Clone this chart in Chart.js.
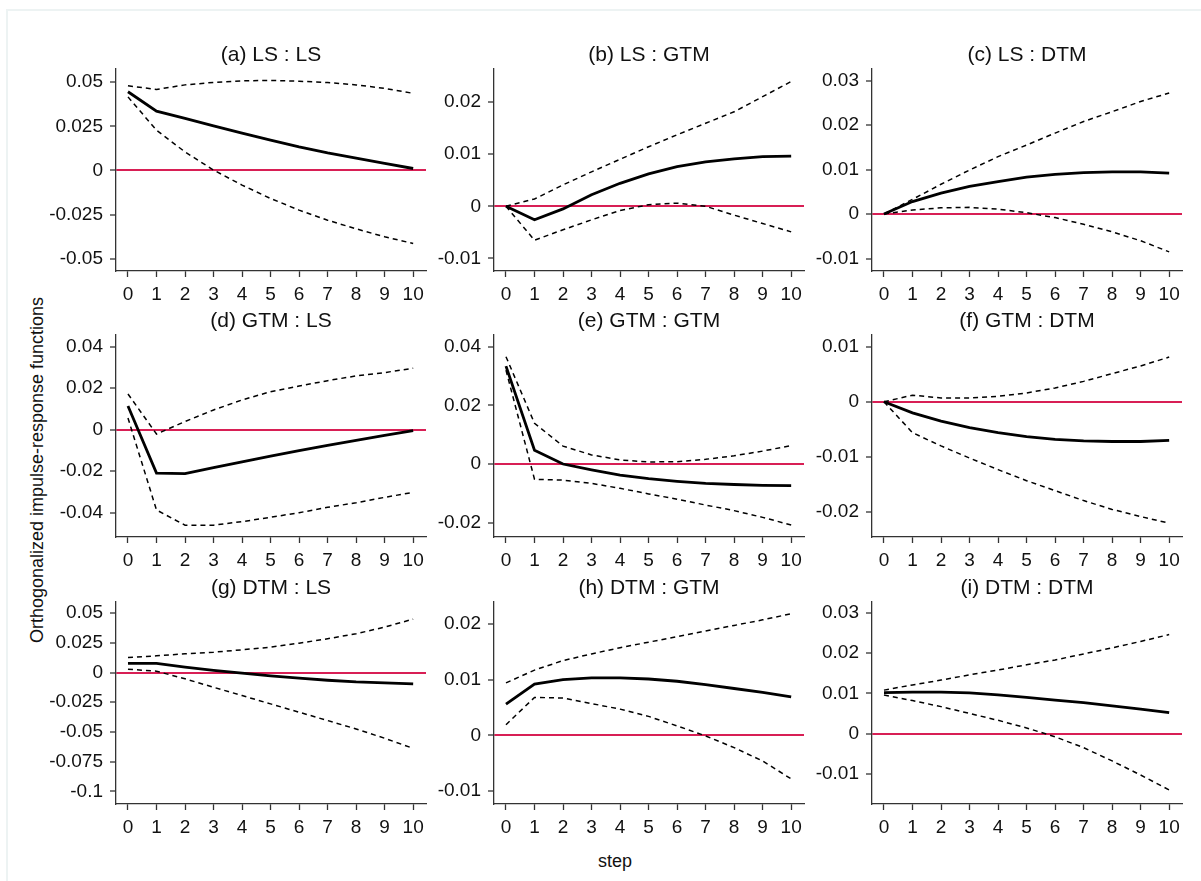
<!DOCTYPE html>
<html lang="en">
<head>
<meta charset="UTF-8">
<title>Orthogonalized impulse-response functions</title>
<script src="https://cdn.jsdelivr.net/npm/chart.js"></script>
<style>
    body {
        margin: 0;
        background: #fff;
        width: 1201px;
        height: 881px;
        overflow: hidden;
        position: relative;
        font-family: "Liberation Sans", Arial, sans-serif;
    }
    .frame {
        position: absolute;
        left: 6px;
        top: 9px;
        width: 1300px;
        height: 1000px;
        border-top: 2px solid #edf3f3;
        border-left: 2px solid #edf3f3;
    }
    .panel { position: absolute; }
    .ytitle {
        position: absolute;
        left: 37px;
        top: 470px;
        transform: translate(-50%, -50%) rotate(-90deg);
        white-space: nowrap;
        font-size: 18px;
        color: #111;
    }
    .xtitle {
        position: absolute;
        left: 615px;
        top: 861px;
        transform: translate(-50%, -50%);
        font-size: 18px;
        color: #111;
    }
</style>
</head>
<body>
<div class="frame"></div>
<div class="ytitle">Orthogonalized impulse-response functions</div>
<div class="xtitle">step</div>
<div id="panels"></div>

<script>
    // steps 0..10
    const steps = [0, 1, 2, 3, 4, 5, 6, 7, 8, 9, 10];

    const titles = ['(a) LS : LS', '(b) LS : GTM', '(c) LS : DTM',
                    '(d) GTM : LS', '(e) GTM : GTM', '(f) GTM : DTM',
                    '(g) DTM : LS', '(h) DTM : GTM', '(i) DTM : DTM'];

    // irf + 95% band
    const a_irf   = [0.0446, 0.0336, 0.0295, 0.0253, 0.0212, 0.0172, 0.0134, 0.0100, 0.0070, 0.0040, 0.0011];
    const a_upper = [0.0480, 0.0459, 0.0485, 0.0499, 0.0508, 0.0510, 0.0506, 0.0498, 0.0485, 0.0465, 0.0437];
    const a_lower = [0.0417, 0.0228, 0.0105, 0.0002, -0.0083, -0.0159, -0.0225, -0.0282, -0.0331, -0.0376, -0.0414];

    const b_irf   = [0, -0.0026, -0.0005, 0.0022, 0.0044, 0.0062, 0.0076, 0.0085, 0.0091, 0.0095, 0.0096];
    const b_upper = [0, 0.0014, 0.0041, 0.0066, 0.0090, 0.0114, 0.0137, 0.0159, 0.0181, 0.0210, 0.0239];
    const b_lower = [0, -0.0065, -0.0045, -0.0026, -0.0008, 0.0003, 0.0006, 0.0000, -0.0017, -0.0033, -0.0049];

    const c_irf   = [0, 0.0028, 0.0047, 0.0062, 0.0073, 0.0083, 0.0089, 0.0093, 0.0095, 0.0095, 0.0092];
    const c_upper = [0, 0.0033, 0.0067, 0.0099, 0.0129, 0.0155, 0.0182, 0.0208, 0.0230, 0.0253, 0.0272];
    const c_lower = [0, 0.0009, 0.0014, 0.0015, 0.0011, 0.0003, -0.0008, -0.0023, -0.0040, -0.0060, -0.0085];

    const d_irf   = [0.0114, -0.0209, -0.0212, -0.0183, -0.0155, -0.0128, -0.0101, -0.0076, -0.0051, -0.0027, -0.0005];
    const d_upper = [0.0172, -0.0021, 0.0039, 0.0095, 0.0143, 0.0183, 0.0210, 0.0236, 0.0259, 0.0275, 0.0296];
    const d_lower = [0.0056, -0.0387, -0.0460, -0.0460, -0.0443, -0.0422, -0.0400, -0.0374, -0.0352, -0.0326, -0.0302];

    const e_irf   = [0.0334, 0.0047, 0, -0.0020, -0.0038, -0.0050, -0.0059, -0.0066, -0.0070, -0.0073, -0.0074];
    const e_upper = [0.0366, 0.0139, 0.0061, 0.0031, 0.0014, 0.0007, 0.0008, 0.0016, 0.0028, 0.0044, 0.0063];
    const e_lower = [0.0320, -0.0052, -0.0055, -0.0066, -0.0083, -0.0102, -0.0120, -0.0140, -0.0159, -0.0182, -0.0208];

    const f_irf   = [0, -0.0020, -0.0035, -0.0047, -0.0056, -0.0063, -0.0068, -0.0071, -0.0072, -0.0072, -0.0070];
    const f_upper = [0, 0.0012, 0.0007, 0.0007, 0.0010, 0.0016, 0.0025, 0.0037, 0.0051, 0.0065, 0.0081];
    const f_lower = [0, -0.0056, -0.0080, -0.0102, -0.0123, -0.0143, -0.0161, -0.0179, -0.0195, -0.0208, -0.0220];

    const g_irf   = [0.0076, 0.0076, 0.0045, 0.0017, -0.0006, -0.0028, -0.0048, -0.0065, -0.0079, -0.0087, -0.0096];
    const g_upper = [0.0126, 0.0140, 0.0157, 0.0171, 0.0191, 0.0213, 0.0247, 0.0284, 0.0326, 0.0382, 0.0449];
    const g_lower = [0.0028, 0.0011, -0.0053, -0.0124, -0.0194, -0.0264, -0.0334, -0.0404, -0.0475, -0.0553, -0.0638];

    const h_irf   = [0.0056, 0.0092, 0.0100, 0.0103, 0.0103, 0.0101, 0.0097, 0.0091, 0.0084, 0.0077, 0.0069];
    const h_upper = [0.0094, 0.0117, 0.0134, 0.0146, 0.0157, 0.0167, 0.0177, 0.0187, 0.0197, 0.0207, 0.0218];
    const h_lower = [0.0019, 0.0068, 0.0067, 0.0057, 0.0047, 0.0034, 0.0017, -0.0001, -0.0022, -0.0046, -0.0078];

    const i_irf   = [0.0102, 0.0103, 0.0103, 0.0101, 0.0096, 0.0090, 0.0083, 0.0077, 0.0069, 0.0061, 0.0052];
    const i_upper = [0.0108, 0.0121, 0.0133, 0.0146, 0.0158, 0.0171, 0.0183, 0.0198, 0.0213, 0.0229, 0.0246];
    const i_lower = [0.0096, 0.0082, 0.0067, 0.0050, 0.0033, 0.0014, -0.0008, -0.0035, -0.0068, -0.0103, -0.0140];

    // y tick labels and axis ranges per panel
    const yTicks = [
        [-0.05, -0.025, 0, 0.025, 0.05], [-0.01, 0, 0.01, 0.02], [-0.01, 0, 0.01, 0.02, 0.03],
        [-0.04, -0.02, 0, 0.02, 0.04], [-0.02, 0, 0.02, 0.04], [-0.02, -0.01, 0, 0.01],
        [-0.1, -0.075, -0.05, -0.025, 0, 0.025, 0.05], [-0.01, 0, 0.01, 0.02], [-0.01, 0, 0.01, 0.02, 0.03]
    ];
    const yMin = [-0.057, -0.0124, -0.0128, -0.0517, -0.0249, -0.0245, -0.1106, -0.0123, -0.0175];
    const yMax = [0.0575, 0.0263, 0.0326, 0.0456, 0.044, 0.0121, 0.0593, 0.0239, 0.0327];
    const xMin = -0.42, xMax = 10.45;

    const irfs   = [a_irf, b_irf, c_irf, d_irf, e_irf, f_irf, g_irf, h_irf, i_irf];
    const uppers = [a_upper, b_upper, c_upper, d_upper, e_upper, f_upper, g_upper, h_upper, i_upper];
    const lowers = [a_lower, b_lower, c_lower, d_lower, e_lower, f_lower, g_lower, h_lower, i_lower];

    // layout of the grid
    const colLeft = [116, 494, 872];
    const rowTop = [69, 335, 602];
    const plotW = 310, plotH = 202;
    const YW = 110, TH = 32, XH = 40, RP = 15;
    const TITLE_SIZE = 21, TICK_SIZE = 19;

    const RED = '#d81f55';
    const AXIS = '#333';
    const FONT = '"Liberation Sans", Arial, sans-serif';

    const fmt = v => String(Number(v.toFixed(4)));
    const pts = vals => steps.map((s, k) => ({x: s, y: vals[k]}));

    const holder = document.getElementById('panels');

    for (let p = 0; p < 9; p++) {
        const col = p % 3, row = Math.floor(p / 3);
        const div = document.createElement('div');
        div.className = 'panel';
        div.style.left = (colLeft[col] - YW) + 'px';
        div.style.top = (rowTop[row] - TH) + 'px';
        const cv = document.createElement('canvas');
        cv.width = YW + plotW + RP;
        cv.height = TH + plotH + XH;
        div.appendChild(cv);
        holder.appendChild(div);

        new Chart(cv.getContext('2d'), {
            type: 'line',
            data: {
                datasets: [
                    { data: pts(irfs[p]), borderColor: '#000', borderWidth: 2.8, pointRadius: 0, tension: 0 },
                    { data: pts(uppers[p]), borderColor: '#000', borderWidth: 1.5, borderDash: [5, 4], pointRadius: 0, tension: 0 },
                    { data: pts(lowers[p]), borderColor: '#000', borderWidth: 1.5, borderDash: [5, 4], pointRadius: 0, tension: 0 }
                ]
            },
            options: {
                responsive: false,
                animation: false,
                events: [],
                layout: { padding: { left: 0, right: RP, top: 0, bottom: 0 } },
                plugins: {
                    legend: { display: false },
                    tooltip: { enabled: false },
                    title: {
                        display: true,
                        fullSize: false,
                        text: titles[p],
                        color: '#111',
                        font: { family: FONT, size: TITLE_SIZE, weight: 'normal', lineHeight: 1 },
                        padding: { top: TH - TITLE_SIZE - 3, bottom: 3 }
                    }
                },
                scales: {
                    x: {
                        type: 'linear',
                        min: xMin,
                        max: xMax,
                        afterBuildTicks: axis => { axis.ticks = steps.map(v => ({value: v})); },
                        afterFit: axis => { axis.height = XH; },
                        ticks: {
                            color: '#111',
                            padding: 6,
                            maxRotation: 0,
                            autoSkip: false,
                            font: { family: FONT, size: TICK_SIZE },
                            callback: v => String(v)
                        },
                        grid: { drawOnChartArea: false, tickLength: 6, tickColor: AXIS, tickWidth: 1.3 },
                        border: { color: AXIS, width: 1.3 }
                    },
                    y: {
                        type: 'linear',
                        min: yMin[p],
                        max: yMax[p],
                        afterBuildTicks: axis => { axis.ticks = yTicks[p].map(v => ({value: v})); },
                        afterFit: axis => { axis.width = YW; },
                        ticks: {
                            color: '#111',
                            padding: 7,
                            autoSkip: false,
                            font: { family: FONT, size: TICK_SIZE },
                            callback: v => fmt(v)
                        },
                        grid: {
                            color: c => (c.tick && Math.abs(c.tick.value) < 1e-9) ? RED : 'rgba(0,0,0,0)',
                            lineWidth: 2,
                            tickLength: 6,
                            tickColor: AXIS,
                            tickWidth: 1.3
                        },
                        border: { color: AXIS, width: 1.3 }
                    }
                }
            }
        });
    }
</script>
</body>
</html>
